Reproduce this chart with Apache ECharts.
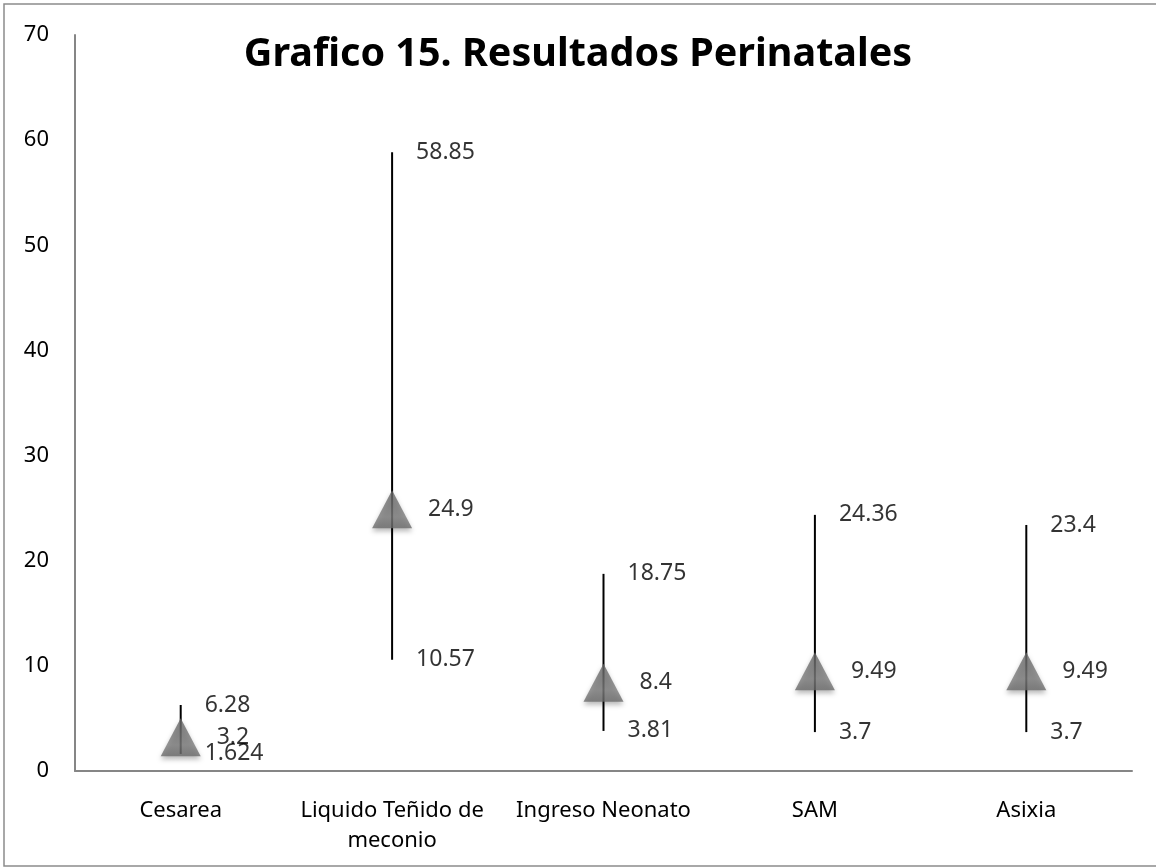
<!DOCTYPE html>
<html>
<head>
<meta charset="utf-8">
<script src="https://cdn.jsdelivr.net/npm/echarts@6/dist/echarts.min.js"></script>
<style>
  html, body { margin: 0; padding: 0; background: #fff; }
  #chart { width: 1156px; height: 868px; }
</style>
</head>
<body>
<div id="chart"></div>
<script>
const categories = ['Cesarea', 'Liquido Teñido de\nmeconio', 'Ingreso Neonato', 'SAM', 'Asixia']
const highValues = [6.28, 58.85, 18.75, 24.36, 23.4]
const midValues = [3.2, 24.9, 8.4, 9.49, 9.49]
const lowValues = [1.624, 10.57, 3.81, 3.7, 3.7]
const yTicks = [0, 10, 20, 30, 40, 50, 60, 70]

const font = '"Noto Sans", sans-serif'
const chart = echarts.init(document.getElementById('chart'))

const valueLabel = (distance) => ({
  show: true,
  position: 'right',
  distance: distance,
  color: '#000',
  fontSize: 23,
  fontFamily: font,
  formatter: (p) => String(p.value[1])
})

const option = {
  animation: false,
  backgroundColor: '#fff',
  title: {
    text: 'Grafico 15. Resultados Perinatales',
    left: 'center',
    top: 30,
    textStyle: { fontSize: 39.5, fontWeight: 'bold', color: '#000', fontFamily: font }
  },
  graphic: [{
    type: 'rect',
    shape: { x: 4, y: 4, width: 1160, height: 862 },
    style: { fill: 'none', stroke: '#8c8c8c', lineWidth: 1.5 },
    silent: true
  }],
  grid: { left: 75, right: 24, top: 35, bottom: 97 },
  xAxis: {
    type: 'category',
    data: categories,
    axisLine: { lineStyle: { color: '#868686', width: 2 } },
    axisTick: { show: false },
    axisLabel: { color: '#000', fontSize: 22, fontFamily: font, margin: 25, lineHeight: 30, interval: 0 }
  },
  yAxis: {
    type: 'value',
    min: yTicks[0],
    max: yTicks[yTicks.length - 1],
    interval: 10,
    axisLine: { show: true, lineStyle: { color: '#868686', width: 2 } },
    axisTick: { show: false },
    splitLine: { show: false },
    axisLabel: { color: '#000', fontSize: 22, fontFamily: font, margin: 26 }
  },
  series: [
    {
      type: 'custom',
      z: 1,
      data: categories.map((c, i) => [i, lowValues[i], highValues[i]]),
      renderItem: (params, api) => {
        const lo = api.coord([api.value(0), api.value(1)])
        const hi = api.coord([api.value(0), api.value(2)])
        return {
          type: 'line',
          shape: { x1: lo[0], y1: lo[1], x2: hi[0], y2: hi[1] },
          style: { stroke: '#000', lineWidth: 2 }
        }
      }
    },
    {
      type: 'scatter',
      z: 3,
      symbolSize: 0,
      data: highValues.map((v, i) => [i, v]),
      label: valueLabel(24)
    },
    {
      type: 'scatter',
      z: 3,
      symbolSize: 0,
      data: lowValues.map((v, i) => [i, v]),
      label: valueLabel(24)
    },
    {
      type: 'scatter',
      z: 4,
      symbol: 'triangle',
      symbolSize: [40, 38],
      data: midValues.map((v, i) => [i, v]),
      itemStyle: {
        color: new echarts.graphic.LinearGradient(0, 0, 0, 1, [
          { offset: 0, color: '#666666' },
          { offset: 0.7, color: '#7e7e7e' },
          { offset: 1, color: '#6a6a6a' }
        ]),
        shadowBlur: 5,
        shadowColor: 'rgba(0,0,0,0.35)',
        shadowOffsetY: 3
      },
      label: valueLabel(16)
    }
  ]
}

chart.setOption(option)
</script>
</body>
</html>
